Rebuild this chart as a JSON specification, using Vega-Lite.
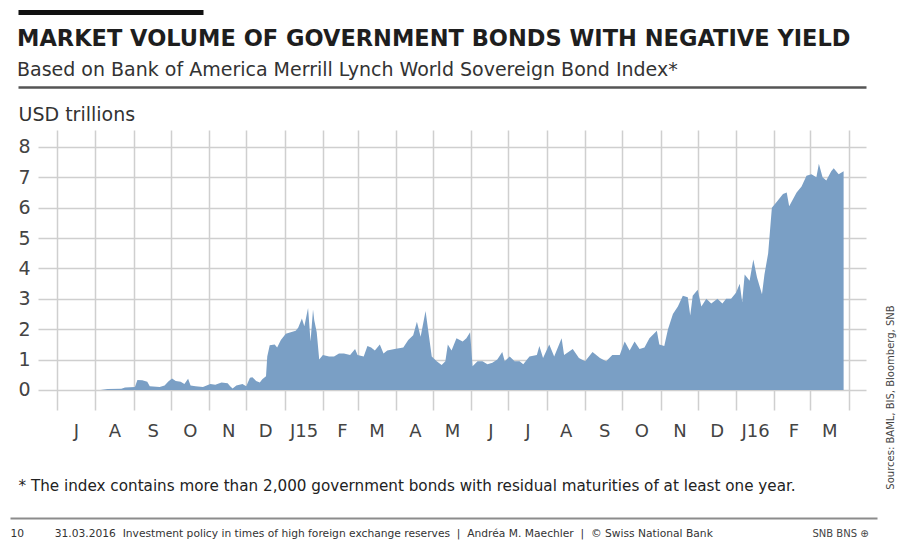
{
  "$schema": "https://vega.github.io/schema/vega-lite/v6.json",
  "width": 867,
  "height": 508,
  "autosize": {"type": "none"},
  "padding": {"left": 10, "top": 10, "right": 20, "bottom": 22},
  "background": "white",
  "config": {
    "view": {"stroke": null},
    "font": "DejaVu Sans",
    "axis": {"labelFont": "DejaVu Sans", "titleFont": "DejaVu Sans"}
  },
  "title": {
    "text": "MARKET VOLUME OF GOVERNMENT BONDS WITH NEGATIVE YIELD",
    "subtitle": "Based on Bank of America Merrill Lynch World Sovereign Bond Index*",
    "anchor": "start",
    "frame": "group",
    "orient": "top",
    "dx": 7,
    "offset": -70,
    "font": "DejaVu Sans",
    "fontSize": 22.5,
    "fontWeight": "bold",
    "color": "#1e1e1e",
    "subtitleFont": "DejaVu Sans",
    "subtitleFontSize": 19,
    "subtitleColor": "#333333",
    "subtitlePadding": 10
  },
  "data": {
    "values": [
      {"date": "2014/07/01", "v": 0},
      {"date": "2014/08/05", "v": 0},
      {"date": "2014/08/11", "v": 0.03},
      {"date": "2014/08/22", "v": 0.04},
      {"date": "2014/08/25", "v": 0.08},
      {"date": "2014/09/02", "v": 0.1},
      {"date": "2014/09/04", "v": 0.33},
      {"date": "2014/09/08", "v": 0.32},
      {"date": "2014/09/12", "v": 0.27},
      {"date": "2014/09/14", "v": 0.12},
      {"date": "2014/09/22", "v": 0.1},
      {"date": "2014/09/26", "v": 0.15},
      {"date": "2014/09/29", "v": 0.28},
      {"date": "2014/10/02", "v": 0.38},
      {"date": "2014/10/05", "v": 0.3},
      {"date": "2014/10/09", "v": 0.27},
      {"date": "2014/10/12", "v": 0.2},
      {"date": "2014/10/15", "v": 0.37},
      {"date": "2014/10/17", "v": 0.15},
      {"date": "2014/10/21", "v": 0.12},
      {"date": "2014/10/27", "v": 0.1},
      {"date": "2014/11/02", "v": 0.2},
      {"date": "2014/11/06", "v": 0.17},
      {"date": "2014/11/11", "v": 0.25},
      {"date": "2014/11/16", "v": 0.22},
      {"date": "2014/11/18", "v": 0.12},
      {"date": "2014/11/20", "v": 0.05},
      {"date": "2014/11/23", "v": 0.15},
      {"date": "2014/11/28", "v": 0.2},
      {"date": "2014/12/01", "v": 0.12},
      {"date": "2014/12/04", "v": 0.4},
      {"date": "2014/12/06", "v": 0.42},
      {"date": "2014/12/09", "v": 0.3},
      {"date": "2014/12/12", "v": 0.25},
      {"date": "2014/12/14", "v": 0.35},
      {"date": "2014/12/17", "v": 0.45},
      {"date": "2014/12/18", "v": 1.1},
      {"date": "2014/12/20", "v": 1.47},
      {"date": "2014/12/24", "v": 1.5},
      {"date": "2014/12/26", "v": 1.4},
      {"date": "2014/12/29", "v": 1.65},
      {"date": "2015/01/02", "v": 1.85},
      {"date": "2015/01/06", "v": 1.9},
      {"date": "2015/01/10", "v": 1.95},
      {"date": "2015/01/12", "v": 2.05},
      {"date": "2015/01/15", "v": 2.35},
      {"date": "2015/01/17", "v": 2.1},
      {"date": "2015/01/19", "v": 2.5},
      {"date": "2015/01/20", "v": 2.7},
      {"date": "2015/01/22", "v": 1.6},
      {"date": "2015/01/24", "v": 2.65},
      {"date": "2015/01/25", "v": 2.3},
      {"date": "2015/01/27", "v": 1.9},
      {"date": "2015/01/29", "v": 1.0},
      {"date": "2015/02/01", "v": 1.15},
      {"date": "2015/02/06", "v": 1.1},
      {"date": "2015/02/10", "v": 1.1},
      {"date": "2015/02/14", "v": 1.2},
      {"date": "2015/02/18", "v": 1.2},
      {"date": "2015/02/23", "v": 1.15},
      {"date": "2015/02/27", "v": 1.35},
      {"date": "2015/03/01", "v": 1.15},
      {"date": "2015/03/06", "v": 1.1},
      {"date": "2015/03/09", "v": 1.45},
      {"date": "2015/03/12", "v": 1.4},
      {"date": "2015/03/15", "v": 1.3},
      {"date": "2015/03/19", "v": 1.5},
      {"date": "2015/03/22", "v": 1.2},
      {"date": "2015/03/25", "v": 1.3},
      {"date": "2015/03/31", "v": 1.35},
      {"date": "2015/04/07", "v": 1.4},
      {"date": "2015/04/11", "v": 1.65},
      {"date": "2015/04/15", "v": 1.8},
      {"date": "2015/04/18", "v": 2.25},
      {"date": "2015/04/21", "v": 1.75},
      {"date": "2015/04/25", "v": 2.6},
      {"date": "2015/04/27", "v": 2.0},
      {"date": "2015/04/30", "v": 1.1},
      {"date": "2015/05/04", "v": 0.95},
      {"date": "2015/05/08", "v": 0.82},
      {"date": "2015/05/11", "v": 0.95},
      {"date": "2015/05/13", "v": 1.5},
      {"date": "2015/05/16", "v": 1.3},
      {"date": "2015/05/20", "v": 1.7},
      {"date": "2015/05/25", "v": 1.6},
      {"date": "2015/05/28", "v": 1.7},
      {"date": "2015/05/31", "v": 1.9},
      {"date": "2015/06/02", "v": 0.78},
      {"date": "2015/06/06", "v": 0.95},
      {"date": "2015/06/10", "v": 0.95},
      {"date": "2015/06/14", "v": 0.85},
      {"date": "2015/06/18", "v": 0.9},
      {"date": "2015/06/22", "v": 1.0},
      {"date": "2015/06/26", "v": 1.25},
      {"date": "2015/06/28", "v": 0.95},
      {"date": "2015/07/02", "v": 1.1},
      {"date": "2015/07/06", "v": 0.95},
      {"date": "2015/07/10", "v": 0.95},
      {"date": "2015/07/13", "v": 0.85},
      {"date": "2015/07/18", "v": 1.1},
      {"date": "2015/07/24", "v": 1.15},
      {"date": "2015/07/26", "v": 1.45},
      {"date": "2015/07/29", "v": 1.05},
      {"date": "2015/08/03", "v": 1.5},
      {"date": "2015/08/07", "v": 1.1},
      {"date": "2015/08/13", "v": 1.7},
      {"date": "2015/08/15", "v": 1.15},
      {"date": "2015/08/22", "v": 1.35},
      {"date": "2015/08/27", "v": 1.05},
      {"date": "2015/09/01", "v": 0.95},
      {"date": "2015/09/07", "v": 1.25},
      {"date": "2015/09/13", "v": 1.05},
      {"date": "2015/09/18", "v": 0.95},
      {"date": "2015/09/23", "v": 1.15},
      {"date": "2015/09/29", "v": 1.15},
      {"date": "2015/10/03", "v": 1.6},
      {"date": "2015/10/07", "v": 1.3},
      {"date": "2015/10/11", "v": 1.6},
      {"date": "2015/10/15", "v": 1.35},
      {"date": "2015/10/19", "v": 1.4},
      {"date": "2015/10/23", "v": 1.7},
      {"date": "2015/10/29", "v": 1.95},
      {"date": "2015/10/31", "v": 1.5},
      {"date": "2015/11/04", "v": 1.45},
      {"date": "2015/11/07", "v": 2.0},
      {"date": "2015/11/11", "v": 2.5},
      {"date": "2015/11/15", "v": 2.75},
      {"date": "2015/11/19", "v": 3.1},
      {"date": "2015/11/23", "v": 3.05},
      {"date": "2015/11/25", "v": 2.45},
      {"date": "2015/11/27", "v": 3.1},
      {"date": "2015/12/01", "v": 3.3},
      {"date": "2015/12/04", "v": 2.75},
      {"date": "2015/12/08", "v": 3.0},
      {"date": "2015/12/12", "v": 2.85},
      {"date": "2015/12/17", "v": 3.0},
      {"date": "2015/12/21", "v": 2.85},
      {"date": "2015/12/24", "v": 3.0},
      {"date": "2015/12/28", "v": 3.0},
      {"date": "2016/01/01", "v": 3.2},
      {"date": "2016/01/04", "v": 3.5},
      {"date": "2016/01/06", "v": 2.9},
      {"date": "2016/01/08", "v": 3.8},
      {"date": "2016/01/12", "v": 3.6},
      {"date": "2016/01/15", "v": 4.3},
      {"date": "2016/01/18", "v": 3.7},
      {"date": "2016/01/22", "v": 3.15},
      {"date": "2016/01/24", "v": 3.8},
      {"date": "2016/01/27", "v": 4.5},
      {"date": "2016/01/30", "v": 6.0},
      {"date": "2016/02/03", "v": 6.2},
      {"date": "2016/02/08", "v": 6.45},
      {"date": "2016/02/11", "v": 6.5},
      {"date": "2016/02/13", "v": 6.05},
      {"date": "2016/02/19", "v": 6.5},
      {"date": "2016/02/23", "v": 6.7},
      {"date": "2016/02/27", "v": 7.05},
      {"date": "2016/03/02", "v": 7.1},
      {"date": "2016/03/06", "v": 7.0},
      {"date": "2016/03/08", "v": 7.45},
      {"date": "2016/03/11", "v": 7.0},
      {"date": "2016/03/14", "v": 6.9},
      {"date": "2016/03/18", "v": 7.2},
      {"date": "2016/03/20", "v": 7.3},
      {"date": "2016/03/24", "v": 7.1},
      {"date": "2016/03/28", "v": 7.2}
    ]
  },
  "resolve": {"axis": {"x": "independent", "y": "independent"}},
  "layer": [
    {
      "mark": {"type": "area", "color": "#7A9FC5", "interpolate": "linear", "opacity": 1},
      "encoding": {
        "x": {
          "field": "date", "type": "temporal",
          "scale": {"domain": [{"year": 2014, "month": 5, "date": 24}, {"year": 2016, "month": 4, "date": 24}], "nice": false},
          "axis": {
            "orient": "bottom", "offset": -108,
            "values": [
              {"year": 2014, "month": 7, "date": 1}, {"year": 2014, "month": 8, "date": 1}, {"year": 2014, "month": 9, "date": 1},
              {"year": 2014, "month": 10, "date": 1}, {"year": 2014, "month": 11, "date": 1}, {"year": 2014, "month": 12, "date": 1},
              {"year": 2015, "month": 1, "date": 1}, {"year": 2015, "month": 2, "date": 1}, {"year": 2015, "month": 3, "date": 1},
              {"year": 2015, "month": 4, "date": 1}, {"year": 2015, "month": 5, "date": 1}, {"year": 2015, "month": 6, "date": 1},
              {"year": 2015, "month": 7, "date": 1}, {"year": 2015, "month": 8, "date": 1}, {"year": 2015, "month": 9, "date": 1},
              {"year": 2015, "month": 10, "date": 1}, {"year": 2015, "month": 11, "date": 1}, {"year": 2015, "month": 12, "date": 1},
              {"year": 2016, "month": 1, "date": 1}, {"year": 2016, "month": 2, "date": 1}, {"year": 2016, "month": 3, "date": 1},
              {"year": 2016, "month": 4, "date": 1}
            ],
            "domain": false, "ticks": false, "grid": false,
            "labelExpr": "datum.value > time(datetime(2016, 2, 15)) ? '' : (month(datum.value) == 0 ? 'J' + timeFormat(datum.value, '%y') : slice(timeFormat(datum.value, '%b'), 0, 1))",
            "labelOffset": 19, "labelPadding": 12, "labelFontSize": 18, "labelColor": "#444444",
            "labelOverlap": false, "labelFlush": false, "labelBound": false,
            "title": "* The index contains more than 2,000 government bonds with residual maturities of at least one year.",
            "titleX": 8, "titleY": 80, "titleAlign": "left", "titleAnchor": "start", "titleBaseline": "alphabetic",
            "titleFontSize": 15.2, "titleFontWeight": "normal", "titleColor": "#222222"
          }
        },
        "y": {
          "field": "v", "type": "quantitative",
          "scale": {"domain": [-4.214, 12.51], "nice": false, "zero": false},
          "axis": {
            "orient": "left", "offset": -28,
            "values": [0, 1, 2, 3, 4, 5, 6, 7, 8],
            "domain": false, "ticks": false, "grid": false,
            "labelPadding": 8, "labelFontSize": 19, "labelColor": "#444444",
            "title": "USD trillions", "titleAngle": 0, "titleAlign": "left", "titleAnchor": "start", "titleBaseline": "alphabetic",
            "titleX": -20, "titleY": 110, "titleFontSize": 19, "titleFontWeight": "normal", "titleColor": "#333333"
          }
        },
        "y2": {"datum": 0}
      }
    },
    {
      "mark": {"type": "point", "opacity": 0, "size": 0},
      "encoding": {
        "x": {
          "field": "date", "type": "temporal",
          "scale": {"domain": [{"year": 2014, "month": 5, "date": 24}, {"year": 2016, "month": 4, "date": 24}], "nice": false},
          "axis": {
            "orient": "top", "offset": -120,
            "values": [
              {"year": 2014, "month": 7, "date": 1}, {"year": 2014, "month": 8, "date": 1}, {"year": 2014, "month": 9, "date": 1},
              {"year": 2014, "month": 10, "date": 1}, {"year": 2014, "month": 11, "date": 1}, {"year": 2014, "month": 12, "date": 1},
              {"year": 2015, "month": 1, "date": 1}, {"year": 2015, "month": 2, "date": 1}, {"year": 2015, "month": 3, "date": 1},
              {"year": 2015, "month": 4, "date": 1}, {"year": 2015, "month": 5, "date": 1}, {"year": 2015, "month": 6, "date": 1},
              {"year": 2015, "month": 7, "date": 1}, {"year": 2015, "month": 8, "date": 1}, {"year": 2015, "month": 9, "date": 1},
              {"year": 2015, "month": 10, "date": 1}, {"year": 2015, "month": 11, "date": 1}, {"year": 2015, "month": 12, "date": 1},
              {"year": 2016, "month": 1, "date": 1}, {"year": 2016, "month": 2, "date": 1}, {"year": 2016, "month": 3, "date": 1},
              {"year": 2016, "month": 4, "date": 1}
            ],
            "domain": false, "labels": false, "grid": false,
            "ticks": true, "tickSize": -280, "tickColor": "#cfcfcf", "tickWidth": 1.5,
            "title": null
          }
        },
        "y": {
          "field": "v", "type": "quantitative",
          "scale": {"domain": [-4.214, 12.51], "nice": false, "zero": false},
          "axis": {
            "orient": "right", "offset": -839,
            "values": [0, 1, 2, 3, 4, 5, 6, 7, 8],
            "domain": false, "labels": false, "grid": false,
            "ticks": true, "tickSize": 828, "tickColor": "#cfcfcf", "tickWidth": 1.5,
            "title": "Sources: BAML, BIS, Bloomberg, SNB", "titleAngle": 270,
            "titleX": 852, "titleY": 387, "titleAlign": "center", "titleAnchor": null, "titleBaseline": "middle",
            "titleFontSize": 10, "titleFontWeight": "normal", "titleColor": "#444444"
          }
        }
      }
    },
    {
      "mark": {"type": "point", "opacity": 0, "size": 0},
      "encoding": {
        "x": {
          "field": "date", "type": "temporal",
          "scale": {"domain": [{"year": 2014, "month": 5, "date": 24}, {"year": 2016, "month": 4, "date": 24}], "nice": false},
          "axis": {
            "orient": "bottom", "offset": 0,
            "domain": true, "domainColor": "#8c8c8c", "domainWidth": 2,
            "labels": false, "ticks": false, "grid": false,
            "title": "10\u00a0\u00a0\u00a0\u00a0\u00a0\u00a0\u00a0\u00a0\u00a031.03.2016\u00a0\u00a0Investment policy in times of high foreign exchange reserves\u00a0\u00a0|\u00a0\u00a0Andréa M. Maechler\u00a0\u00a0|\u00a0\u00a0© Swiss National Bank",
            "titleX": 0, "titleY": 18, "titleAlign": "left", "titleAnchor": "start", "titleBaseline": "alphabetic",
            "titleFontSize": 10.7, "titleFontWeight": "normal", "titleColor": "#333333"
          }
        },
        "y": {
          "field": "v", "type": "quantitative",
          "scale": {"domain": [-4.214, 12.51], "nice": false, "zero": false},
          "axis": {
            "orient": "right", "offset": -859,
            "values": [12.428, 9.975],
            "domain": false, "labels": false, "grid": false,
            "ticks": true,
            "tickSize": {"condition": {"test": "datum.value > 11", "value": 185}, "value": 848},
            "tickWidth": {"condition": {"test": "datum.value > 11", "value": 5}, "value": 2.5},
            "tickColor": {"condition": {"test": "datum.value > 11", "value": "#111111"}, "value": "#555555"},
            "title": "SNB BNS \u2295", "titleAngle": 0,
            "titleX": 794, "titleY": 526, "titleAlign": "left", "titleAnchor": null, "titleBaseline": "alphabetic",
            "titleFontSize": 10, "titleFontWeight": "normal", "titleColor": "#444444"
          }
        }
      }
    }
  ]
}
